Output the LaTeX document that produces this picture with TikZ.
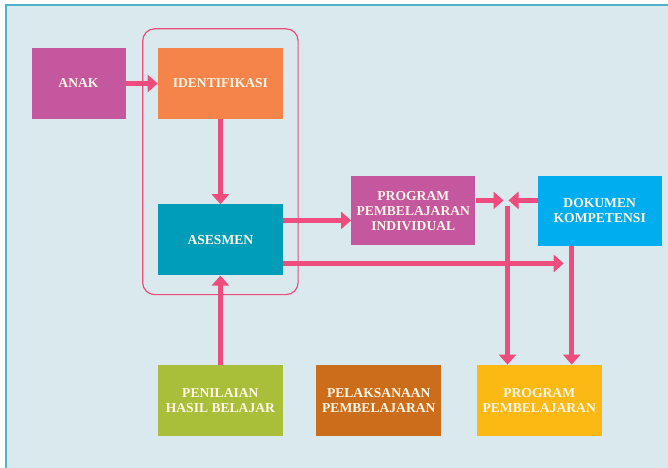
\documentclass[tikz,border=0pt]{standalone}
\usepackage{fontspec}
\setmainfont{Liberation Serif}
\usepackage{tikz}
\usepackage{xcolor}
\usetikzlibrary{arrows.meta, positioning, fit, calc}
\definecolor{bgblue}{HTML}{D9E9EE}
\definecolor{framec}{HTML}{4DB3CC}
\definecolor{arrowc}{HTML}{EE4B7F}
\definecolor{magentac}{HTML}{C4579E}
\definecolor{orangec}{HTML}{F5844A}
\definecolor{tealc}{HTML}{009DB8}
\definecolor{skyc}{HTML}{00AEEF}
\definecolor{greenc}{HTML}{A9BF3A}
\definecolor{brownc}{HTML}{CC6D1B}
\definecolor{yellowc}{HTML}{FDB913}
\definecolor{textc}{HTML}{FFF6E6}
\tikzstyle{box} = [rectangle, minimum width=125pt, minimum height=71pt, inner sep=2pt, align=center, text=textc, font=\fontsize{13.6}{14.8}\selectfont\bfseries]
\tikzstyle{arrow} = [draw=arrowc, line width=5pt, -{Triangle[width=17pt,length=10pt]}]
\tikzstyle{group} = [draw=arrowc, line width=1.2pt, rounded corners=12pt, inner xsep=15pt, inner ysep=19pt]

\begin{document}
\begin{tikzpicture}[x=1pt, y=-1pt]

% canvas
\useasboundingbox (0,0) rectangle (668,467);
\clip (0,0) rectangle (668,467);
\fill[white] (0,0) rectangle (668,467);
\draw[framec, fill=bgblue, line width=1.5pt] (6,5) rectangle (672,472);

% left column
\node (anak) [box, fill=magentac, minimum width=94pt] at (78.5,83.5) {ANAK};
\node (ident) [box, fill=orangec, right=32pt of anak] {IDENTIFIKASI};
\node (asesmen) [box, fill=tealc, below=85pt of ident] {ASESMEN};

% bottom row
\node (penilaian) [box, fill=greenc, below=89pt of asesmen] {PENILAIAN\\HASIL BELAJAR};
\node (pelaksanaan) [box, fill=brownc, right=33pt of penilaian] {PELAKSANAAN\\PEMBELAJARAN};
\node (progpemb) [box, fill=yellowc, right=35pt of pelaksanaan] {PROGRAM\\PEMBELAJARAN};

% middle row
\node (ppi) [box, fill=magentac, right=68pt of asesmen, yshift=29pt, minimum height=69pt, minimum width=124pt] {PROGRAM\\PEMBELAJARAN\\INDIVIDUAL};
\node (dokumen) [box, fill=skyc, right=62pt of ppi, minimum width=124pt, minimum height=70pt] {DOKUMEN\\KOMPETENSI};

% group frame
\node (grp) [group, fit=(ident) (asesmen)] {};

% junction points
\coordinate (lowtip) at ($(asesmen.east -| dokumen.south)+(-36,23.5)$);
\coordinate (ppitip) at ($(ppi.east)+(28,-10.5)$);
\coordinate (doktip) at ($(dokumen.west)+(-29,-10.5)$);
\coordinate (join) at ($(ppi.east)+(32,-5)$);
\coordinate (dokdown) at ($(dokumen.south)+(-28,0)$);

% Arrows
\draw [arrow] (anak) -- (ident);
\draw [arrow] (ident) -- (asesmen);
\draw [arrow] (penilaian) -- (asesmen);
\draw [arrow] ($(asesmen.east)+(0,-19.5)$) -- ($(asesmen.east -| ppi.west)+(0,-19.5)$);
\draw [arrow] ($(asesmen.east)+(0,23.5)$) -- (lowtip);
\draw [arrow] ($(ppi.east)+(0,-10.5)$) -- (ppitip);
\draw [arrow] ($(dokumen.west)+(0,-10.5)$) -- (doktip);
\draw [arrow] (join) -- (join |- progpemb.north);
\draw [arrow] (dokdown) -- (dokdown |- progpemb.north);

\end{tikzpicture}
\end{document}
